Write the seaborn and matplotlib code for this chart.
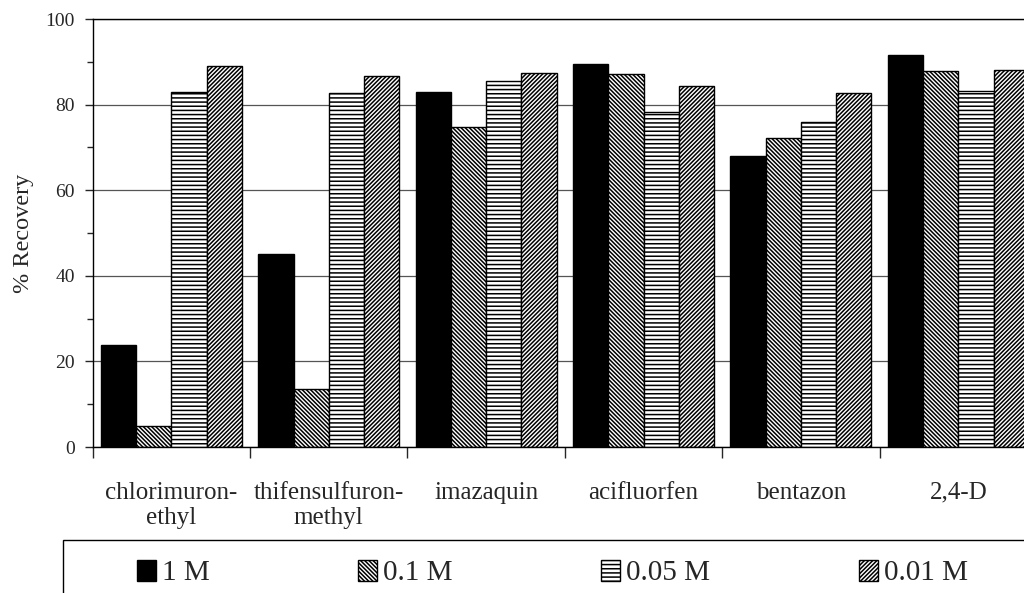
import matplotlib
matplotlib.use("Agg")
import matplotlib.pyplot as plt
from matplotlib.patches import Patch, Rectangle
from matplotlib.ticker import MultipleLocator, FixedLocator
import seaborn as sns
import pandas as pd

herbicides = ["chlorimuron-\nethyl", "thifensulfuron-\nmethyl", "imazaquin",
              "acifluorfen", "bentazon", "2,4-D"]
concentrations = ["1 M", "0.1 M", "0.05 M", "0.01 M"]
rec_1M = [23.8, 45.2, 82.9, 89.4, 68.0, 91.7]
rec_01M = [4.9, 13.6, 74.8, 87.1, 72.1, 87.9]
rec_005M = [82.9, 82.6, 85.4, 78.2, 76.0, 83.2]
rec_001M = [89.0, 86.7, 87.5, 84.4, 82.8, 88.2]

series = [rec_1M, rec_01M, rec_005M, rec_001M]
rows = []
for conc, vals in zip(concentrations, series):
    for h, v in zip(herbicides, vals):
        rows.append({"herbicide": h, "conc": conc, "recovery": v})
df = pd.DataFrame(rows)

face = ["black", "white", "white", "white"]
hatches = [None, "\\" * 8, "----", "/" * 8]

sns.set_style("white")
plt.rcParams["font.family"] = ["Liberation Serif", "DejaVu Serif"]
plt.rcParams["hatch.linewidth"] = 1.1
plt.rcParams["hatch.color"] = "black"

fig = plt.figure(figsize=(10.24, 5.93), dpi=100)
ax = fig.add_axes([92.7 / 1024, 1 - 447 / 593, 944.3 / 1024, 428 / 593])

sns.barplot(data=df, x="herbicide", y="recovery", hue="conc",
            hue_order=concentrations, order=herbicides,
            palette=face, edgecolor="black", linewidth=1.0,
            width=0.895, saturation=1, legend=False, ax=ax, zorder=2)

for cont, hatch in zip(ax.containers, hatches):
    for bar in cont:
        if hatch:
            bar.set_hatch(hatch)

ax.set_xlim(-0.5, 5.5)
ax.set_ylim(0, 100)
ax.yaxis.set_major_locator(MultipleLocator(20))
ax.yaxis.set_minor_locator(FixedLocator([10, 30, 50, 70, 90]))
ax.xaxis.set_minor_locator(FixedLocator([i - 0.5 for i in range(7)]))
ax.tick_params(axis="y", which="major", direction="out", length=6, width=1,
               labelsize=14, pad=7, left=True)
ax.tick_params(axis="y", which="minor", direction="out", length=4, width=1, left=True)
ax.tick_params(axis="x", which="major", length=0, labelsize=18, pad=25)
ax.tick_params(axis="x", which="minor", direction="out", length=8, width=1, bottom=True)
ax.set_xlabel("")
ax.set_ylabel("% Recovery", fontsize=17.5, labelpad=8)

ax.yaxis.grid(True, color="#555555", linewidth=0.9, zorder=0)
ax.set_axisbelow(True)
for s in ax.spines.values():
    s.set_color("black")
    s.set_linewidth(1.0)

handles = [Patch(facecolor=f, edgecolor="black", hatch=h, linewidth=1.0)
           for f, h in zip(face, hatches)]
fig.legend(handles, concentrations, loc="center left",
           bbox_to_anchor=(137 / 1024, 1 - 573 / 593), ncol=4, frameon=False,
           fontsize=21, handlelength=0.65, handleheight=0.72, handletextpad=0.2,
           columnspacing=5.1, borderpad=0, borderaxespad=0)
fig.patches.append(Rectangle((63 / 1024, -0.1), 1.2, 0.1 + (593 - 540) / 593,
                             transform=fig.transFigure, fill=False,
                             edgecolor="black", linewidth=1.0))

fig.savefig("out.png", dpi=100)
